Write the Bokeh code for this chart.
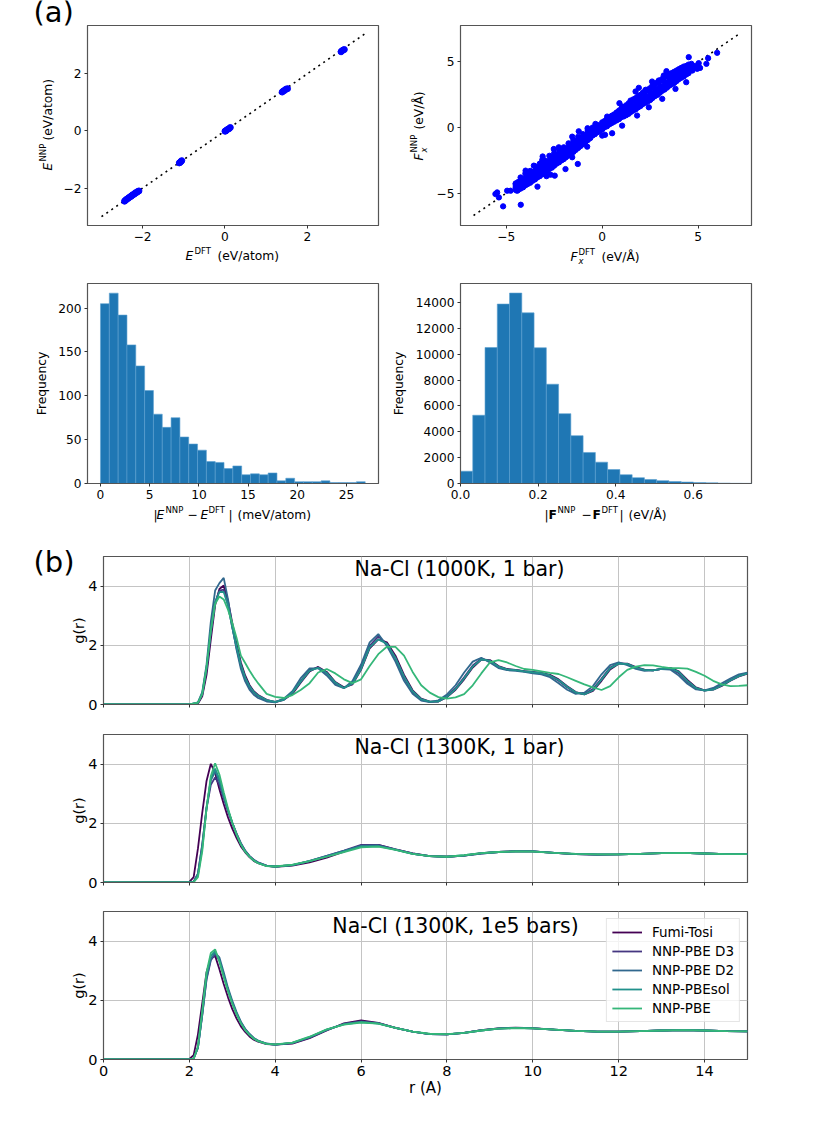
from bokeh.embed import file_html
from bokeh.layouts import column, row
from bokeh.models import Label, Legend, LegendItem, Range1d
from bokeh.plotting import figure
from bokeh.resources import INLINE
import numpy as np

FONT = "DejaVu Sans"

# (a) energy parity
e_dft = [-2.44, -2.42, -2.40, -2.38, -2.35, -2.33, -2.30, -2.28, -2.26, -2.24, -2.21, -2.19, -2.17, -2.14, -2.12, -2.09,
         -1.11, -1.09, -1.07, -1.05, 0.00, 0.02, 0.04, 0.07, 0.10, 0.13,
         1.39, 1.42, 1.45, 1.48, 1.52, 2.82, 2.84, 2.87, 2.90]
e_nnp = [-2.46, -2.43, -2.41, -2.38, -2.36, -2.33, -2.30, -2.29, -2.26, -2.23, -2.22, -2.19, -2.16, -2.15, -2.12, -2.10,
         -1.12, -1.10, -1.07, -1.04, -0.01, 0.00, 0.03, 0.06, 0.08, 0.12,
         1.36, 1.40, 1.42, 1.46, 1.48, 2.77, 2.80, 2.83, 2.85]
parity_e = [-3.0, 3.4]

# (a) force parity, rows across the band plus the stragglers
f_dft = [-4.5, -4.25, -4.0, -3.75, -3.5, -3.25, -3.0, -2.75, -2.5, -2.25, -2.0, -1.75, -1.5, -1.25, -1.0, -0.75, -0.5, -0.25, 0.0,
         0.25, 0.5, 0.75, 1.0, 1.25, 1.5, 1.75, 2.0, 2.25, 2.5, 2.75, 3.0, 3.25, 3.5, 3.75, 4.0, 4.25, 4.5]
f_row_a = [-4.25, -3.8, -3.5, -3.3, -2.95, -2.75, -2.5, -2.15, -1.95, -1.65, -1.5, -1.2, -0.95, -0.7, -0.5, -0.2, 0.0, 0.2, 0.4,
           0.65, 0.9, 1.15, 1.45, 1.7, 2.0, 2.25, 2.5, 2.8, 3.0, 3.35, 3.55, 3.85, 4.05, 4.25, 4.45, 4.65, 4.8]
f_row_b = [-4.45, -4.1, -3.85, -3.6, -3.3, -3.1, -2.85, -2.5, -2.3, -2.0, -1.8, -1.5, -1.25, -1.0, -0.75, -0.45, -0.2, 0.05, 0.25,
           0.45, 0.7, 0.95, 1.2, 1.4, 1.7, 1.95, 2.2, 2.45, 2.7, 3.0, 3.2, 3.5, 3.75, 3.95, 4.2, 4.4, 4.6]
f_row_c = [-4.55, -4.4, -4.15, -3.9, -3.65, -3.4, -3.15, -2.85, -2.6, -2.3, -2.1, -1.8, -1.55, -1.3, -1.0, -0.7, -0.4, -0.15, 0.05,
           0.3, 0.5, 0.75, 1.0, 1.15, 1.45, 1.65, 1.9, 2.15, 2.4, 2.7, 2.95, 3.2, 3.45, 3.7, 3.95, 4.2, 4.4]
f_row_d = [-4.75, -4.65, -4.4, -4.2, -3.95, -3.7, -3.45, -3.15, -2.9, -2.65, -2.4, -2.1, -1.85, -1.55, -1.25, -0.95, -0.6, -0.35, -0.15,
           0.1, 0.35, 0.55, 0.8, 0.95, 1.2, 1.4, 1.65, 1.9, 2.1, 2.4, 2.65, 2.9, 3.2, 3.4, 3.7, 3.9, 4.15]
f_mid_dft = [-4.38, -4.12, -3.88, -3.62, -3.38, -3.12, -2.88, -2.62, -2.38, -2.12, -1.88, -1.62, -1.38, -1.12, -0.88, -0.62, -0.38, -0.12,
             0.12, 0.38, 0.62, 0.88, 1.12, 1.38, 1.62, 1.88, 2.12, 2.38, 2.62, 2.88, 3.12, 3.38, 3.62, 3.88, 4.12, 4.38]
f_mid_a = [-4.15, -3.95, -3.65, -3.4, -3.1, -2.85, -2.6, -2.35, -2.05, -1.8, -1.6, -1.3, -1.1, -0.85, -0.6, -0.35, -0.1, 0.1,
           0.5, 0.75, 1.0, 1.3, 1.55, 1.85, 2.15, 2.4, 2.65, 2.9, 3.2, 3.45, 3.7, 3.95, 4.15, 4.35, 4.55, 4.7]
f_mid_b = [-4.5, -4.25, -4.0, -3.75, -3.5, -3.25, -3.0, -2.7, -2.45, -2.2, -1.95, -1.65, -1.4, -1.15, -0.9, -0.6, -0.3, -0.05,
           0.2, 0.45, 0.65, 0.9, 1.1, 1.35, 1.6, 1.85, 2.05, 2.35, 2.6, 2.85, 3.1, 3.35, 3.6, 3.85, 4.05, 4.3]
f_mid_c = [-4.75, -4.55, -4.3, -4.05, -3.8, -3.55, -3.3, -3.05, -2.75, -2.5, -2.25, -1.95, -1.7, -1.4, -1.1, -0.8, -0.5, -0.25,
           0.02, 0.25, 0.45, 0.65, 0.85, 1.05, 1.3, 1.55, 1.8, 2.0, 2.25, 2.5, 2.8, 3.05, 3.3, 3.55, 3.8, 4.05]
f_out_dft = [4.51, 5.99, 5.52, 5.43, 5.03, 3.35, 3.21, 2.6, 1.91, 1.74, 0.9, -1.22, -0.76, -1.27, -3.37, -4.24, -5.16,
             -5.56, -5.47, -5.38, -4.95, -4.77, -4.43, -4.51, -2.47, 4.38, 4.08, 4.65, 4.95, 4.79, 4.6, -3.1, -2.9, 0.15,
             4.7, 4.87, 5.1,
             -3.99, -3.56, -3.12, -2.52, -2.26, -1.56, -0.35, 0.26, 1.04, 1.48, 2.26, 2.95, 3.65,
             -3.73, -2.69, -1.91, -1.56, -0.78, 0.0, 0.52, 1.04, 1.82, 2.43, 3.13, 3.82]
f_out_nnp = [5.37, 5.7, 5.29, 4.86, 4.91, 4.3, 3.97, 3.51, 3.03, 2.75, 1.86, -0.28, -0.05, -2.77, -4.5, -5.88, -6.0,
             -5.06, -4.94, -5.32, -4.81, -4.81, -4.81, -4.3, -3.66, 3.46, 4.3, 4.86, 4.48, 4.6, 4.45, -2.2, -3.7, -0.55,
             4.35, 4.7, 4.55,
             -3.28, -2.9, -2.47, -1.63, -1.5, -0.69, 0.28, 0.84, 1.6, 2.06, 2.88, 3.59, 4.1,
             -3.79, -3.59, -3.16, -2.26, -1.45, -0.61, -0.43, 0.15, 0.92, 1.55, 2.19, 2.95]
parity_f = [-6.7, 7.1]

# (a) histograms
hist_e = [205, 217, 192, 158, 134, 106, 79, 64, 75, 53, 45, 38, 25, 24, 17, 20, 10, 11, 10, 12, 3, 6, 2, 2, 2, 3, 1, 1, 1, 2]
hist_f = [950, 5280, 10520, 13880, 14730, 13200, 10500, 7680, 5400, 3700, 2400, 1650, 1080, 680, 450, 310, 220, 150, 110,
          70, 50, 30, 15, 10]

# (b) Na-Cl 1000K, 1 bar
r_a = [0, 2.0, 2.2, 2.3, 2.4, 2.5, 2.6, 2.7, 2.8, 2.9, 3.0, 3.1, 3.2, 3.3, 3.4, 3.5, 3.6,
       3.8, 4.0, 4.2, 4.4, 4.6, 4.8, 5.0, 5.2, 5.4, 5.6,
       5.8, 6.0, 6.2, 6.4, 6.6, 6.8, 7.0, 7.2, 7.4, 7.6,
       7.8, 8.0, 8.2, 8.4, 8.6, 8.8, 9.0, 9.2, 9.4, 9.6,
       9.8, 10.0, 10.2, 10.4, 10.6, 10.8, 11.0, 11.2, 11.4, 11.6,
       11.8, 12.0, 12.2, 12.4, 12.6, 12.8, 13.0, 13.2, 13.4, 13.6,
       13.8, 14.0, 14.2, 14.4, 14.6, 14.8, 15.0]
a_fumi = [0, 0, .03, .28, 1.0, 2.2, 3.35, 3.9, 4.02, 3.5, 2.75, 2.05, 1.42, .98, .66, .45, .32,
          .16, .08, .16, .36, .75, 1.12, 1.27, 1.1, .76, .58,
          .68, 1.18, 1.9, 2.2, 2.1, 1.65, 1.0, .48, .2, .1,
          .1, .25, .5, .85, 1.25, 1.52, 1.5, 1.3, 1.2, 1.17,
          1.13, 1.1, 1.07, 1.0, .85, .62, .42, .34, .46, .8,
          1.18, 1.38, 1.38, 1.26, 1.18, 1.15, 1.2, 1.24, 1.12, .83,
          .58, .48, .5, .63, .8, .95, 1.04]
a_d3 = [0, 0, .05, .33, 1.15, 2.4, 3.45, 3.85, 3.88, 3.35, 2.6, 1.9, 1.3, .88, .58, .4, .28,
        .13, .09, .18, .4, .8, 1.17, 1.25, 1.05, .72, .56,
        .72, 1.25, 1.98, 2.3, 2.05, 1.55, .9, .42, .16, .09,
        .11, .28, .55, .92, 1.32, 1.55, 1.46, 1.27, 1.18, 1.16,
        1.12, 1.08, 1.05, .97, .8, .58, .39, .35, .52, .88,
        1.25, 1.4, 1.36, 1.24, 1.16, 1.15, 1.2, 1.22, 1.06, .77,
        .54, .47, .52, .66, .83, .98, 1.06]
a_d2 = [0, 0, .07, .42, 1.35, 2.8, 3.85, 4.1, 4.28, 3.55, 2.65, 1.85, 1.2, .78, .5, .33, .22,
        .1, .07, .2, .45, .9, 1.22, 1.22, .98, .66, .55,
        .8, 1.35, 2.1, 2.38, 1.98, 1.45, .8, .36, .13, .08,
        .14, .34, .65, 1.08, 1.45, 1.58, 1.42, 1.23, 1.16, 1.14,
        1.1, 1.05, 1.02, .92, .72, .5, .36, .4, .62, 1.02,
        1.33, 1.42, 1.33, 1.2, 1.14, 1.15, 1.2, 1.18, .98, .7,
        .51, .48, .56, .72, .88, 1.02, 1.08]
a_sol = [0, 0, .06, .38, 1.25, 2.5, 3.45, 3.8, 3.8, 3.35, 2.6, 1.95, 1.35, .92, .62, .42, .3,
         .15, .09, .16, .4, .78, 1.14, 1.24, 1.07, .74, .56,
         .7, 1.2, 1.93, 2.2, 2.05, 1.58, .95, .45, .18, .1,
         .1, .26, .52, .88, 1.28, 1.52, 1.48, 1.28, 1.19, 1.16,
         1.12, 1.09, 1.06, .98, .83, .6, .41, .34, .48, .84,
         1.22, 1.38, 1.37, 1.25, 1.17, 1.15, 1.2, 1.23, 1.1, .8,
         .56, .47, .5, .64, .81, .96, 1.05]
a_pbe = [0, 0, .06, .35, 1.25, 2.5, 3.4, 3.65, 3.55, 3.2, 2.75, 2.25, 1.65, 1.4, 1.15, .92, .72,
         .36, .26, .22, .32, .5, .72, 1.08, 1.2, 1.05, .85,
         .72, .85, 1.3, 1.7, 1.95, 1.95, 1.65, 1.1, .65, .4,
         .25, .2, .24, .35, .65, 1.05, 1.42, 1.5, 1.42, 1.3,
         1.2, 1.17, 1.12, 1.07, 1.03, .92, .8, .68, .58, .49,
         .62, .92, 1.17, 1.28, 1.33, 1.32, 1.27, 1.23, 1.23, 1.21,
         1.1, .97, .8, .68, .62, .63, .65]

# (b) the two 1300K panels share a grid
r_b = [0, 2.0, 2.1, 2.2, 2.3, 2.4, 2.5, 2.6, 2.7, 2.8, 2.9, 3.0, 3.1, 3.2, 3.3, 3.4, 3.5, 3.6,
       3.8, 4.0, 4.4, 4.8, 5.2, 5.6, 6.0, 6.4, 6.8, 7.2, 7.6, 8.0, 8.4, 8.8, 9.2, 9.6, 10.0,
       10.5, 11, 11.5, 12, 12.5, 13, 13.5, 14, 14.5, 15]
b_fumi = [0, .02, .18, 1.15, 2.35, 3.43, 4.01, 3.7, 3.15, 2.65, 2.2, 1.82, 1.5, 1.22, 1.02, .86, .73, .65,
          .56, .53, .57, .68, .84, 1.04, 1.25, 1.27, 1.12, .98, .89, .87, .91, .99, 1.03, 1.06, 1.05,
          1.0, .96, .94, .95, .97, .99, 1.0, .98, .96, .96]
b_d3 = [0, 0, .03, .3, 1.3, 2.5, 3.3, 3.55, 3.3, 2.85, 2.42, 2.02, 1.65, 1.33, 1.08, .9, .77, .68,
        .57, .54, .59, .72, .9, 1.08, 1.27, 1.27, 1.12, .98, .89, .87, .91, .98, 1.03, 1.05, 1.05,
        1.0, .96, .94, .95, .97, .99, 1.0, .98, .96, .96]
b_d2 = [0, 0, .03, .3, 1.25, 2.55, 3.45, 3.75, 3.4, 2.88, 2.42, 2.02, 1.64, 1.32, 1.07, .89, .76, .67,
        .56, .54, .59, .73, .9, 1.07, 1.24, 1.25, 1.11, .97, .89, .87, .91, .98, 1.03, 1.05, 1.05,
        1.0, .96, .94, .95, .97, .99, 1.0, .98, .96, .96]
b_sol = [0, 0, .02, .25, 1.15, 2.5, 3.5, 3.85, 3.5, 2.95, 2.46, 2.02, 1.62, 1.3, 1.05, .88, .75, .66,
         .56, .54, .59, .72, .88, 1.05, 1.22, 1.23, 1.11, .97, .89, .87, .92, .99, 1.03, 1.05, 1.05,
         1.0, .97, .95, .95, .97, .99, 1.0, .98, .96, .96]
b_pbe = [0, 0, .01, .18, 1.05, 2.5, 3.6, 4.03, 3.65, 3.05, 2.5, 2.02, 1.62, 1.28, 1.04, .87, .74, .65,
         .55, .54, .6, .72, .87, 1.03, 1.19, 1.21, 1.1, .97, .89, .87, .92, .99, 1.03, 1.05, 1.04,
         1.0, .97, .95, .95, .97, .99, 1.0, .98, .96, .96]

c_fumi = [0, .02, .15, .85, 1.9, 2.95, 3.42, 3.5, 3.05, 2.55, 2.1, 1.7, 1.38, 1.12, .93, .78, .67, .6,
          .52, .5, .54, .72, .98, 1.22, 1.32, 1.24, 1.07, .94, .86, .85, .9, .99, 1.05, 1.08, 1.06,
          1.01, .97, .94, .94, .96, .98, .99, .98, .96, .95]
c_d3 = [0, 0, .04, .4, 1.5, 2.7, 3.35, 3.55, 3.35, 2.85, 2.35, 1.92, 1.55, 1.25, 1.02, .85, .72, .63,
        .53, .5, .55, .74, 1.0, 1.2, 1.29, 1.23, 1.07, .94, .86, .85, .9, .99, 1.05, 1.07, 1.05,
        1.01, .97, .94, .94, .96, .98, .99, .98, .96, .95]
c_d2 = [0, 0, .04, .4, 1.5, 2.75, 3.4, 3.6, 3.45, 2.95, 2.42, 1.98, 1.6, 1.28, 1.04, .87, .73, .64,
        .54, .5, .56, .75, 1.0, 1.2, 1.27, 1.22, 1.07, .94, .86, .85, .9, .98, 1.04, 1.07, 1.05,
        1.01, .97, .94, .94, .96, .98, .99, .98, .96, .95]
c_sol = [0, 0, .03, .4, 1.55, 2.85, 3.5, 3.65, 3.35, 2.85, 2.35, 1.92, 1.55, 1.24, 1.0, .84, .71, .63,
         .53, .5, .56, .76, 1.01, 1.19, 1.26, 1.21, 1.07, .94, .86, .85, .9, .98, 1.04, 1.07, 1.05,
         1.01, .97, .94, .94, .96, .98, .99, .98, .96, .95]
c_pbe = [0, 0, .03, .45, 1.65, 2.95, 3.6, 3.72, 3.3, 2.78, 2.3, 1.88, 1.52, 1.22, .99, .83, .7, .62,
         .53, .51, .57, .77, 1.02, 1.18, 1.25, 1.21, 1.07, .94, .87, .86, .9, .98, 1.04, 1.06, 1.05,
         1.01, .97, .94, .94, .96, .98, .99, .98, .96, .95]

models = ["Fumi-Tosi", "NNP-PBE D3", "NNP-PBE D2", "NNP-PBEsol", "NNP-PBE"]
colors = ["#440154", "#453781", "#31688e", "#21918c", "#35b779"]

PAGE_H = 1109


def base_fig(width, height, xr, yr, borders, size="12.2px"):
    top, right, bottom, left = borders
    p = figure(width=width, height=height, x_range=Range1d(*xr), y_range=Range1d(*yr),
               output_backend="svg", toolbar_location=None,
               min_border_top=top, min_border_right=right, min_border_bottom=bottom, min_border_left=left)
    p.outline_line_color = "#555555"
    p.outline_line_width = 1.2
    p.grid.visible = False
    for ax in (p.xaxis[0], p.yaxis[0]):
        ax.axis_line_color = "#555555"
        ax.major_tick_line_color = "#333333"
        ax.major_tick_in = 0
        ax.major_tick_out = 3
        ax.minor_tick_line_color = None
        ax.major_label_text_font = FONT
        ax.major_label_text_font_size = size
        ax.major_label_text_color = "black"
        ax.major_label_standoff = 3
    return p


def ticks(ax, values, blank=False):
    ax.ticker = values
    if blank:
        ax.major_label_overrides = {v: "" for v in values}
    else:
        ax.major_label_overrides = {v: str(v).replace("-", "\u2212") for v in values}


def hist(p, counts, edge_max):
    edges = np.linspace(0, edge_max, len(counts) + 1)
    p.quad(left=edges[:-1], right=edges[1:], top=counts, bottom=0, fill_color="#1f77b4",
           line_color="#5a9fd0", line_width=0.6)


# labels outside a frame get clipped, so they all sit on a clear figure laid over the page
overlay = figure(width=830, height=PAGE_H, x_range=Range1d(0, 830), y_range=Range1d(PAGE_H, 0),
                 output_backend="svg", toolbar_location=None, x_axis_location=None, y_axis_location=None,
                 min_border=0, background_fill_color=None, border_fill_color=None, outline_line_color=None,
                 margin=(-PAGE_H, 0, 0, 0), frame_align=False)
overlay.grid.visible = False


def text(s, x, y, size=12.3, style="normal", angle=0, align="left"):
    # x, y are page pixels of the text's baseline; Label sits about .37em past it
    if angle:
        x -= 0.37 * size
    else:
        y -= 0.37 * size
    overlay.add_layout(Label(x=x, y=y, text=s, text_font=FONT, text_font_size="%gpx" % size, text_font_style=style,
                             angle=angle, angle_units="deg", text_align=align, text_baseline="alphabetic",
                             text_color="black"))


# top row
p_e = base_fig(385, 270, (-3.34, 3.73), (-3.31, 3.69), (25, 7, 45, 87))
ticks(p_e.xaxis[0], [-2, 0, 2])
ticks(p_e.yaxis[0], [-2, 0, 2])
p_e.line(parity_e, parity_e, color="black", line_width=1.6, line_dash="2 4")
p_e.scatter(e_dft, e_nnp, size=6, color="blue")
text("(a)", 33, 22, size=29)
text("E", 185, 260, style="italic")
text("DFT", 194, 254, size=8.5)
text("(eV/atom)", 217, 260)
text("E", 52, 170, style="italic", angle=90)
text("NNP", 46, 161, size=8.5, angle=90)
text("(eV/atom)", 52, 140, angle=90)

p_f = base_fig(445, 270, (-7.38, 7.78), (-7.46, 7.78), (25, 79, 45, 75))
ticks(p_f.xaxis[0], [-5, 0, 5])
ticks(p_f.yaxis[0], [-5, 0, 5])
p_f.line(parity_f, parity_f, color="black", line_width=1.6, line_dash="2 4")
for f_row in (f_row_a, f_row_b, f_row_c, f_row_d):
    p_f.scatter(f_dft, f_row, size=5.3, color="blue")
for f_row in (f_mid_a, f_mid_b, f_mid_c):
    p_f.scatter(f_mid_dft, f_row, size=5.3, color="blue")
p_f.scatter(f_out_dft, f_out_nnp, size=5.3, color="blue")
text("F", 570, 261, style="italic")
text("x", 578, 264, size=8.5, style="italic")
text("DFT", 578, 255, size=8.5)
text("(eV/\u00c5)", 601, 261)
text("F", 423, 160, style="italic", angle=90)
text("x", 427, 152, size=8.5, style="italic", angle=90)
text("NNP", 417, 152, size=8.5, angle=90)
text("(eV/\u00c5)", 423, 129, angle=90)

# histogram row
p_he = base_fig(385, 260, (-1.32, 28.25), (0, 228), (13, 7, 47, 87))
ticks(p_he.xaxis[0], [0, 5, 10, 15, 20, 25])
ticks(p_he.yaxis[0], [0, 50, 100, 150, 200])
hist(p_he, hist_e, 26.9)
text("Frequency", 46, 383, angle=90, align="center")
text("|", 153, 519)
text("E", 156, 519, style="italic")
text("NNP", 165, 513, size=8.5)
text("\u2212", 187, 519)
text("E", 200, 519, style="italic")
text("DFT", 208, 513, size=8.5)
text("|", 228, 519)
text("(meV/atom)", 237, 519)

p_hf = base_fig(445, 260, (0, 0.75), (0, 15470), (13, 79, 47, 75))
ticks(p_hf.xaxis[0], [0, 0.2, 0.4, 0.6])
p_hf.xaxis[0].major_label_overrides = {0: "0.0", 0.2: "0.2", 0.4: "0.4", 0.6: "0.6"}
ticks(p_hf.yaxis[0], [0, 2000, 4000, 6000, 8000, 10000, 12000, 14000])
hist(p_hf, hist_f, 0.0316 * len(hist_f))
text("Frequency", 403, 383, angle=90, align="center")
text("|", 544, 519)
text("F", 548, 519, style="bold")
text("NNP", 557, 513, size=8.5)
text("\u2212", 581, 519)
text("F", 592, 519, style="bold")
text("DFT", 601, 513, size=8.5)
text("|", 619, 519)
text("(eV/\u00c5)", 628, 519)


# g(r) panels
def rdf_fig(height, top, bottom, title, title_x, title_y, series, r, labelled=False):
    p = base_fig(830, height, (0, 15), (0, 5), (top, 83, bottom, 103), size="14.5px")
    ticks(p.xaxis[0], [0, 2, 4, 6, 8, 10, 12, 14], blank=not labelled)
    ticks(p.yaxis[0], [0, 2, 4])
    p.grid.visible = True
    p.xgrid.ticker = [0, 2, 4, 6, 8, 10, 12, 14]
    p.ygrid.ticker = [0, 2, 4]
    p.grid.grid_line_color = "#c4c4c4"
    p.grid.grid_line_width = 1
    renderers = [p.line(r, vals, color=col, line_width=1.8) for vals, col in zip(series, colors)]
    p.add_layout(Label(x=title_x, y=title_y, text=title, text_font=FONT, text_font_size="20.5px",
                       text_align="center", text_baseline="alphabetic", text_color="black"))
    return p, renderers


p_1, _ = rdf_fig(190, 26, 16, "Na-Cl (1000K, 1 bar)", 8.29, 4.58, [a_fumi, a_d3, a_d2, a_sol, a_pbe], r_a)
p_2, _ = rdf_fig(178, 14, 16, "Na-Cl (1300K, 1 bar)", 8.29, 4.58, [b_fumi, b_d3, b_d2, b_sol, b_pbe], r_b)
p_3, lines = rdf_fig(211, 13, 50, "Na-Cl (1300K, 1e5 bars)", 8.2, 4.52, [c_fumi, c_d3, c_d2, c_sol, c_pbe], r_b, labelled=True)
text("(b)", 33, 572, size=29)
text("g(r)", 84, 630, size=14.5, angle=90, align="center")
text("g(r)", 84, 810, size=14.5, angle=90, align="center")
text("g(r)", 84, 985, size=14.5, angle=90, align="center")
text("r (A)", 425, 1093, size=15, align="center")

legend = Legend(items=[LegendItem(label=m, renderers=[l]) for m, l in zip(models, lines)],
                location="top_right", margin=7, padding=5, spacing=3, glyph_width=30, glyph_height=16,
                label_height=16, label_standoff=10, label_text_font=FONT, label_text_font_size="13.5px",
                label_text_color="black", border_line_color="#cccccc", background_fill_alpha=0.8)
p_3.add_layout(legend)

layout = column(row(p_e, p_f, spacing=0), row(p_he, p_hf, spacing=0), p_1, p_2, p_3, overlay, spacing=0)
open("out.html", "w").write(file_html(layout, INLINE))
